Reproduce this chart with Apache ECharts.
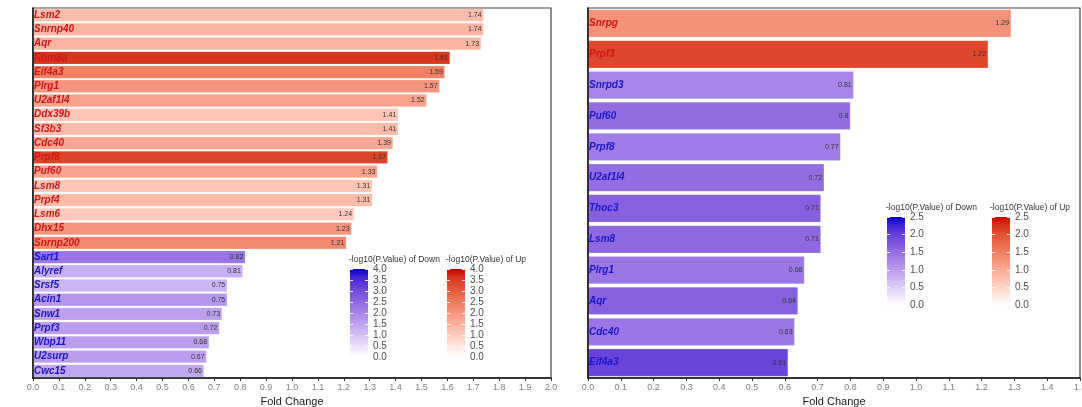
<!DOCTYPE html>
<html>
<head>
<meta charset="utf-8">
<script src="https://cdn.jsdelivr.net/npm/echarts@6/dist/echarts.min.js"></script>
<style>html,body{margin:0;padding:0;background:#fff}#c{width:1082px;height:407px}</style>
</head>
<body>
<div id="c"></div>
<script>
// ---------- data ----------
const leftGenes = ['Lsm2','Snrnp40','Aqr','Rbm8a','Eif4a3','Plrg1','U2af1l4','Ddx39b','Sf3b3','Cdc40','Prpf8','Puf60','Lsm8','Prpf4','Lsm6','Dhx15','Snrnp200','Sart1','Alyref','Srsf5','Acin1','Snw1','Prpf3','Wbp11','U2surp','Cwc15'];
const leftFC = [1.74,1.74,1.73,1.61,1.59,1.57,1.52,1.41,1.41,1.39,1.37,1.33,1.31,1.31,1.24,1.23,1.21,0.82,0.81,0.75,0.75,0.73,0.72,0.68,0.67,0.66];
const leftP = [1.25,1.4,1.45,3.6,2.4,2.0,1.75,1.1,1.3,1.7,3.4,1.75,1.1,1.3,1.0,2.0,2.2,2.3,1.3,1.2,1.7,1.55,1.6,1.6,1.6,1.45];

const rightGenes = ['Snrpg','Prpf3','Snrpd3','Puf60','Prpf8','U2af1l4','Thoc3','Lsm8','Plrg1','Aqr','Cdc40','Eif4a3'];
const rightFC = [1.29,1.22,0.81,0.8,0.77,0.72,0.71,0.71,0.66,0.64,0.63,0.61];
const rightP = [1.3,2.1,1.25,1.5,1.35,1.5,1.65,1.55,1.4,1.65,1.4,1.95];

const leftXMax = 2.0, rightXMax = 1.5, xInterval = 0.1;
const leftLegendMax = 4.0, rightLegendMax = 2.5, legendInterval = 0.5;
const legendTitleDown = '-log10(P.Value) of Down';
const legendTitleUp = '-log10(P.Value) of Up';
const xAxisTitle = 'Fold Change';

// ---------- colour ramp (CIELAB interpolation, white -> high) ----------
function hex2rgb(h){h=h.replace('#','');return [0,2,4].map(i=>parseInt(h.substr(i,2),16)/255);}
function lin(c){return c<=0.04045?c/12.92:Math.pow((c+0.055)/1.055,2.4);}
function delin(c){c=c<=0.0031308?12.92*c:1.055*Math.pow(c,1/2.4)-0.055;return Math.max(0,Math.min(1,c));}
const WX=0.95047,WY=1,WZ=1.08883;
function f(t){return t>0.008856?Math.cbrt(t):7.787*t+16/116;}
function finv(t){return t*t*t>0.008856?t*t*t:(t-16/116)/7.787;}
function rgb2lab(rgb){const [r,g,b]=rgb.map(lin);
  const X=0.4124*r+0.3576*g+0.1805*b, Y=0.2126*r+0.7152*g+0.0722*b, Z=0.0193*r+0.1192*g+0.9505*b;
  const fx=f(X/WX),fy=f(Y/WY),fz=f(Z/WZ);return [116*fy-16,500*(fx-fy),200*(fy-fz)];}
function lab2hex(lab){const fy=(lab[0]+16)/116,fx=fy+lab[1]/500,fz=fy-lab[2]/200;
  const X=WX*finv(fx),Y=WY*finv(fy),Z=WZ*finv(fz);
  const r=3.2406*X-1.5372*Y-0.4986*Z,g=-0.9689*X+1.8758*Y+0.0415*Z,b=0.0557*X-0.2040*Y+1.0570*Z;
  return '#'+[r,g,b].map(c=>Math.round(delin(c)*255).toString(16).padStart(2,'0')).join('');}
function ramp(high,n){const a=rgb2lab([1,1,1]),b=rgb2lab(hex2rgb(high));const out=[];
  for(let i=0;i<n;i++){const t=i/(n-1);out.push(lab2hex([0,1,2].map(k=>a[k]+(b[k]-a[k])*t)));}return out;}
const upRamp = ramp('#CD0000',13);
const downRamp = ramp('#0000CD',13);
const upText = '#cf1515', downText = '#1b15c8';

function items(genes,fc,p,up){
  const out=[];genes.forEach((g,i)=>{if((fc[i]>1)===up)out.push([fc[i],g,p[i]]);});return out;}

const font = 'Liberation Sans, Arial, sans-serif';

const grids = [
  {left:33, top:8, width:518, height:370},
  {left:588, top:8, width:492, height:370},
  {left:350, top:269, width:18, height:88},
  {left:447, top:269, width:18, height:88},
  {left:887, top:217, width:18, height:88},
  {left:992, top:217, width:18, height:88}
];

function mainX(gi,max){return {
  gridIndex:gi,type:'value',min:0,max:max,interval:xInterval,
  name:xAxisTitle,nameLocation:'middle',nameGap:18,
  nameTextStyle:{fontSize:11,color:'#1a1a1a',fontFamily:font},
  axisLine:{show:true,lineStyle:{color:'#111',width:1.5}},
  axisTick:{show:true,length:3,lineStyle:{color:'#333'}},
  axisLabel:{fontSize:9,color:'#7f7f7f',margin:5,fontFamily:font,formatter:v=>v.toFixed(1),hideOverlap:false},
  splitLine:{show:false}};}
function mainY(gi,genes,fc){return {
  gridIndex:gi,type:'category',data:genes,inverse:true,z:10,
  axisLine:{show:true,lineStyle:{color:'#111',width:1.5}},
  axisTick:{show:false},splitLine:{show:false},
  axisLabel:{inside:true,margin:1,fontSize:10,fontStyle:'italic',fontWeight:'bold',fontFamily:font,
    color:(v)=>fc[genes.indexOf(v)]>1?upText:downText}};}
function legX(gi){return {gridIndex:gi,type:'category',data:['c'],show:false};}
function legY(gi,max,pos,labels){return {
  gridIndex:gi,type:'value',min:0,max:max,interval:legendInterval,position:pos,z:5,
  axisLine:{show:false},splitLine:{show:false},
  axisTick:{show:true,inside:true,length:3,lineStyle:{color:'rgba(255,255,255,0.9)',width:1}},
  axisLabel:{show:labels,fontSize:10,color:'#4d4d4d',margin:5,fontFamily:font,formatter:v=>v.toFixed(1)}};}

function barSeries(gi,genes,fc,p,up){return {
  type:'bar',xAxisIndex:gi,yAxisIndex:gi,barGap:'-100%',barCategoryGap:'10%',
  encode:{x:0,y:1},data:items(genes,fc,p,up),
  label:{show:true,position:'insideRight',distance:2,fontSize:7,color:'#333',fontFamily:font,
    formatter:pp=>String(pp.value[0])},
  itemStyle:{borderColor:'rgba(255,255,255,0.35)',borderWidth:0.5}};}
function grad(r){return new echarts.graphic.LinearGradient(0,1,0,0,r.map((c,i)=>({offset:i/(r.length-1),color:c})));}
function legSeries(ax,max,r){return {type:'bar',xAxisIndex:ax,yAxisIndex:ax,barWidth:'100%',silent:true,
  data:[max],itemStyle:{color:grad(r)},label:{show:false}};}

const xAxes=[mainX(0,leftXMax),mainX(1,rightXMax),legX(2),legX(3),legX(4),legX(5)];
const yAxes=[mainY(0,leftGenes,leftFC),mainY(1,rightGenes,rightFC),
  legY(2,leftLegendMax,'right',true),legY(3,leftLegendMax,'right',true),
  legY(4,rightLegendMax,'right',true),legY(5,rightLegendMax,'right',true)];
[2,3,4,5].forEach(gi=>{yAxes.push(legY(gi,gi<4?leftLegendMax:rightLegendMax,'left',false));});

const series=[
  barSeries(0,leftGenes,leftFC,leftP,true),
  barSeries(0,leftGenes,leftFC,leftP,false),
  barSeries(1,rightGenes,rightFC,rightP,true),
  barSeries(1,rightGenes,rightFC,rightP,false),
  legSeries(2,leftLegendMax,downRamp),
  legSeries(3,leftLegendMax,upRamp),
  legSeries(4,rightLegendMax,downRamp),
  legSeries(5,rightLegendMax,upRamp)
];

const ts={fontSize:8.5,color:'#333',fontWeight:'normal',fontFamily:font};
const option={
  animation:false,
  backgroundColor:'#fff',
  title:[
    {text:legendTitleDown,left:349,top:255,textStyle:ts,padding:0},
    {text:legendTitleUp,left:446,top:255,textStyle:ts,padding:0},
    {text:legendTitleDown,left:886,top:203,textStyle:ts,padding:0},
    {text:legendTitleUp,left:990,top:203,textStyle:ts,padding:0}
  ],
  grid:grids.map((g,i)=>Object.assign({outerBoundsMode:'none',containLabel:false},g,i<2?{show:true,borderColor:'#444',borderWidth:1.2,backgroundColor:'#fff'}:{})),
  xAxis:xAxes,
  yAxis:yAxes,
  visualMap:[
    {show:false,type:'continuous',min:0,max:leftLegendMax,dimension:2,seriesIndex:0,inRange:{color:upRamp}},
    {show:false,type:'continuous',min:0,max:leftLegendMax,dimension:2,seriesIndex:1,inRange:{color:downRamp}},
    {show:false,type:'continuous',min:0,max:rightLegendMax,dimension:2,seriesIndex:2,inRange:{color:upRamp}},
    {show:false,type:'continuous',min:0,max:rightLegendMax,dimension:2,seriesIndex:3,inRange:{color:downRamp}}
  ],
  series:series
};
const chart=echarts.init(document.getElementById('c'),null,{renderer:'canvas'});
chart.setOption(option);
</script>
</body>
</html>
